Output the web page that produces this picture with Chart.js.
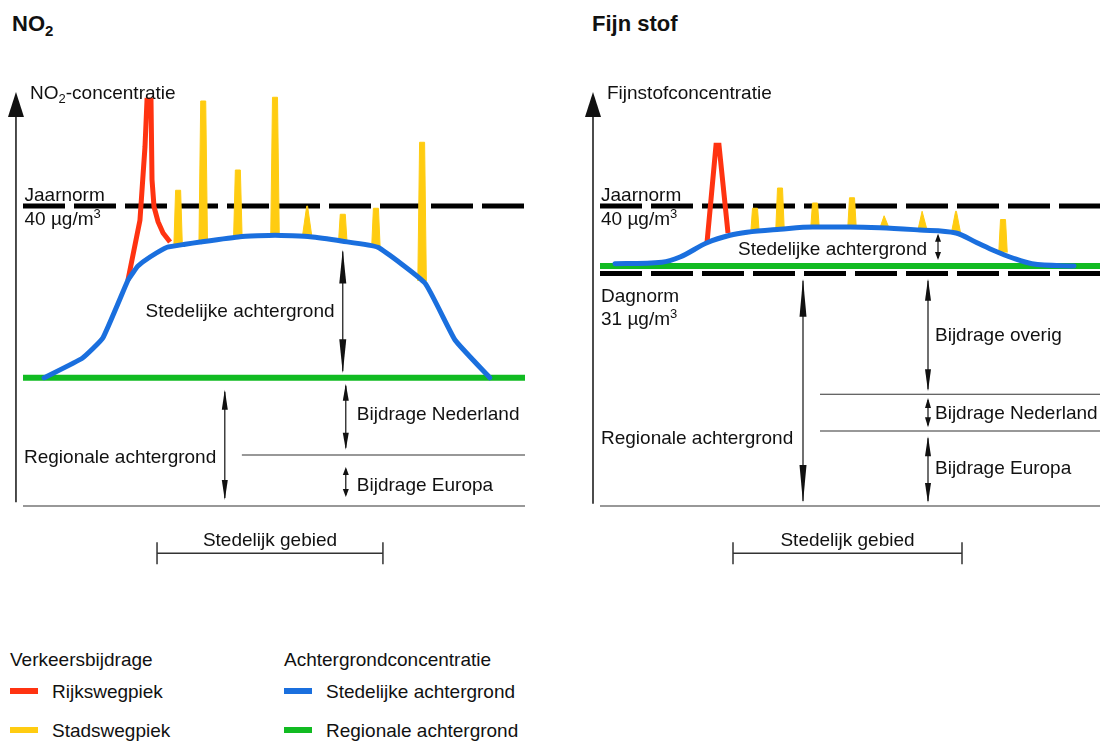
<!DOCTYPE html>
<html><head><meta charset="utf-8"><title>NO2 en fijn stof</title>
<script src="https://cdn.jsdelivr.net/npm/chart.js@4.4.1/dist/chart.umd.min.js"></script>
<style>
html,body{margin:0;padding:0;background:#fff;}
body{width:1104px;height:745px;position:relative;overflow:hidden;font-family:"Liberation Sans",Arial,Helvetica,sans-serif;color:#111;}
canvas.panel{position:absolute;top:0;}
.title{position:absolute;font-weight:bold;font-size:22px;line-height:22px;white-space:nowrap;}
.title span{font-size:15px;position:relative;top:5px;}
.lg{position:absolute;font-size:19px;line-height:1;white-space:nowrap;transform:translateY(-50%);}
.sw{position:absolute;width:28px;height:6px;transform:translateY(-50%);}
</style></head><body>
<div class="title" style="left:12px;top:13px">NO<span>2</span></div>
<div class="title" style="left:592px;top:13px">Fijn stof</div>
<canvas id="no2" class="panel" width="552" height="600" style="left:0"></canvas>
<canvas id="pm" class="panel" width="552" height="600" style="left:552px"></canvas>
<div id="legend"></div>
<script>
// ---------- colours ----------
const RED = '#ff3311', YELLOW = '#ffcc11', BLUE = '#1a6fde', GREEN = '#11bb22';

// ---------- NO2 panel data (x: afstand, y: concentratie µg/m3) ----------
const no2BlueX = [4.2, 11.8, 15.9, 20.9, 21.9, 22.9, 25.3, 28.7, 32.3, 35.3, 43.2, 50.2, 57.2, 63.7, 70.7, 80.1, 86.1, 93.0];
const no2BlueY = [17.1, 19.7, 22.4, 30.1, 31.1, 32.0, 33.2, 34.5, 34.9, 35.2, 35.9, 36.1, 35.9, 35.3, 34.5, 29.7, 22.1, 17.1];
const no2RedX = [20.9, 23.3, 24.3, 24.7, 25.5, 25.7, 26.1, 26.9, 27.9, 29.3];
const no2RedY = [30.1, 38.1, 47.9, 54.1, 54.1, 43.5, 39.9, 37.9, 36.4, 35.2];
const no2PeakX = [30.9, 35.9, 42.8, 50.2, 56.6, 63.7, 70.3, 79.5];
const no2PeakTop = [42.1, 54.0, 44.8, 54.5, 40.0, 38.9, 39.7, 48.5];
const no2PeakBase = [34.6, 35.2, 35.8, 36.0, 35.9, 35.2, 34.4, 30.0];
const no2PeakShape = ['bar', 'bar', 'bar', 'bar', 'spike', 'bar', 'bar', 'bar'];
const no2Regional = 17.1;
const no2Norms = [40];

// ---------- Fijn stof panel data ----------
const pmBlueX = [3, 12.4, 16, 21.4, 26, 29.4, 36, 42.6, 50, 56, 64, 71.2, 75.4, 79, 82.4, 86.4, 94.8];
const pmBlueY = [32.3, 32.5, 33.2, 35.1, 36.1, 36.5, 36.9, 37.2, 37.2, 37.1, 36.8, 36.4, 35.1, 34.0, 33.1, 32.3, 32.0];
const pmRedX = [21.4, 23.2, 23.8, 25.6];
const pmRedY = [35.1, 48.1, 48.1, 36.4];
const pmPeakX = [31, 36, 43, 50.4, 56.9, 64.5, 71.2, 80.6];
const pmPeakTop = [39.7, 42.4, 40.4, 41.1, 38.7, 39.3, 39.3, 38.2];
const pmPeakBase = [36.4, 36.8, 37.1, 37.1, 37.0, 36.7, 36.3, 33.8];
const pmPeakShape = ['bar', 'bar', 'bar', 'bar', 'spike', 'spike', 'spike', 'bar'];
const pmRegional = 32.0;
const pmNorms = [40, 31];

// peak shapes (half widths in x units)
const PEAK_SHAPE = { bar: { base: 0.85, top: 0.5 }, spike: { base: 0.95, top: 0.08 } };

// ---------- annotations (in data units) ----------
const no2Spec = {
  axis: { x: -1.4, top: 55.2, bottom: 0.5 },
  hlines: [{ y: 6.8, x1: 43.6, x2: 100 }, { y: 0, x1: 0, x2: 100 }],
  arrows: [
    { x: 63.7, y1: 34.2, y2: 17.7, head: 34, w: 7 },
    { x: 64.3, y1: 16.3, y2: 7.5, head: 17, w: 6 },
    { x: 64.3, y1: 5.2, y2: 1.2, head: 8, w: 6 },
    { x: 40.2, y1: 15.5, y2: 0.8, head: 20, w: 6 }
  ],
  texts: [
    { x: 1.4, y: 55.1, parts: [['NO'], ['2', 'sub'], ['-concentratie']] },
    { x: 0.3, y: 41.5, parts: [['Jaarnorm']] },
    { x: 0.3, y: 38.3, parts: [['40 µg/m'], ['3', 'sup']] },
    { x: 24.4, y: 26.1, parts: [['Stedelijke achtergrond']] },
    { x: 66.5, y: 12.4, parts: [['Bijdrage Nederland']] },
    { x: 66.5, y: 2.9, parts: [['Bijdrage Europa']] },
    { x: 0.2, y: 6.6, parts: [['Regionale achtergrond']] }
  ],
  bracket: { x1: 26.7, x2: 71.7, y: -6.3, label: 'Stedelijk gebied', labelY: -4.4 }
};
const pmSpec = {
  axis: { x: -1.4, top: 55.2, bottom: 0.3 },
  hlines: [{ y: 14.9, x1: 44, x2: 100 }, { y: 10.0, x1: 44, x2: 100 }, { y: 0, x1: 0, x2: 100 }],
  arrows: [
    { x: 67.6, y1: 36.3, y2: 32.8, head: 8, w: 6 },
    { x: 40.6, y1: 30.3, y2: 0.4, head: 38, w: 7 },
    { x: 65.6, y1: 30.3, y2: 15.3, head: 22, w: 6 },
    { x: 65.6, y1: 14.4, y2: 10.5, head: 10, w: 6 },
    { x: 65.6, y1: 9.3, y2: 0.4, head: 20, w: 6 }
  ],
  texts: [
    { x: 1.4, y: 55.1, parts: [['Fijnstofconcentratie']] },
    { x: 0.2, y: 41.5, parts: [['Jaarnorm']] },
    { x: 0.2, y: 38.3, parts: [['40 µg/m'], ['3', 'sup']] },
    { x: 27.6, y: 34.3, parts: [['Stedelijke achtergrond']] },
    { x: 0.2, y: 28.1, parts: [['Dagnorm']] },
    { x: 0.2, y: 25.0, parts: [['31 µg/m'], ['3', 'sup']] },
    { x: 67, y: 22.9, parts: [['Bijdrage overig']] },
    { x: 67, y: 12.5, parts: [['Bijdrage Nederland']] },
    { x: 67, y: 5.2, parts: [['Bijdrage Europa']] },
    { x: 0.2, y: 9.1, parts: [['Regionale achtergrond']] }
  ],
  bracket: { x1: 26.6, x2: 72.4, y: -6.3, label: 'Stedelijk gebied', labelY: -4.4 }
};

const FONT = '"Liberation Sans", Arial, Helvetica, sans-serif';
function fontFor(p, size) {
  return (p[1] ? 13 : size) + 'px ' + FONT;
}
function drawRich(ctx, parts, px, py, size, align) {
  const base = py + size * 0.35;
  const widths = parts.map(p => { ctx.font = fontFor(p, size); return ctx.measureText(p[0]).width; });
  const total = widths.reduce((a, b) => a + b, 0);
  let x = align === 'center' ? px - total / 2 : px;
  ctx.textAlign = 'left';
  ctx.textBaseline = 'alphabetic';
  parts.forEach((p, i) => {
    ctx.font = fontFor(p, size);
    const dy = p[1] === 'sub' ? 4 : (p[1] === 'sup' ? -7 : 0);
    ctx.fillText(p[0], x, base + dy);
    x += widths[i];
  });
}
function head(ctx, x, tipY, dir, len, w) {
  ctx.beginPath();
  ctx.moveTo(x, tipY);
  ctx.lineTo(x - w / 2, tipY + dir * len);
  ctx.lineTo(x + w / 2, tipY + dir * len);
  ctx.closePath();
  ctx.fill();
}

const annotate = {
  id: 'annotate',
  afterDatasetsDraw(chart, args, opts) {
    const spec = opts.spec;
    if (!spec) return;
    const { ctx } = chart;
    const X = v => chart.scales.x.getPixelForValue(v);
    const Y = v => chart.scales.y.getPixelForValue(v);
    ctx.save();
    ctx.strokeStyle = '#111';
    ctx.fillStyle = '#111';
    // y-axis arrow
    const ax = X(spec.axis.x);
    ctx.lineWidth = 1.5;
    ctx.beginPath();
    ctx.moveTo(ax, Y(spec.axis.bottom));
    ctx.lineTo(ax, Y(spec.axis.top) + 20);
    ctx.stroke();
    head(ctx, ax, Y(spec.axis.top), 1, 25, 16);
    // thin horizontal lines
    ctx.strokeStyle = '#333';
    ctx.lineWidth = 1.2;
    spec.hlines.forEach(h => {
      ctx.beginPath();
      ctx.moveTo(X(h.x1), Y(h.y));
      ctx.lineTo(X(h.x2), Y(h.y));
      ctx.stroke();
    });
    // double arrows
    ctx.strokeStyle = '#111';
    spec.arrows.forEach(a => {
      const x = X(a.x), yt = Y(a.y1), yb = Y(a.y2);
      ctx.lineWidth = 1.2;
      ctx.beginPath();
      ctx.moveTo(x, yt + 2);
      ctx.lineTo(x, yb - 2);
      ctx.stroke();
      head(ctx, x, yt, 1, a.head, a.w);
      head(ctx, x, yb, -1, a.head, a.w);
    });
    // texts
    ctx.fillStyle = '#111';
    spec.texts.forEach(t => drawRich(ctx, t.parts, X(t.x), Y(t.y), 19, 'left'));
    // bracket
    const b = spec.bracket;
    const bx1 = X(b.x1), bx2 = X(b.x2), by = Y(b.y);
    ctx.strokeStyle = '#333';
    ctx.lineWidth = 1.5;
    ctx.beginPath();
    ctx.moveTo(bx1, by); ctx.lineTo(bx2, by);
    ctx.moveTo(bx1, by - 11); ctx.lineTo(bx1, by + 11);
    ctx.moveTo(bx2, by - 11); ctx.lineTo(bx2, by + 11);
    ctx.stroke();
    drawRich(ctx, [[b.label]], (bx1 + bx2) / 2, Y(b.labelY), 19, 'center');
    ctx.restore();
  }
};

function pts(xs, ys) { return xs.map((x, i) => ({ x, y: ys[i] })); }

function buildChart(id, d, spec, padding, blueSmooth) {
  const datasets = [];
  const blueDs = { label: 'Stedelijke achtergrond', data: pts(d.blueX, d.blueY), borderColor: BLUE, borderWidth: 5,
    pointRadius: 0, fill: false, borderJoinStyle: 'round', borderCapStyle: 'round' };
  if (blueSmooth) blueDs.cubicInterpolationMode = 'monotone'; else blueDs.tension = 0.12;
  datasets.push(blueDs);
  datasets.push({ label: 'Rijkswegpiek', data: pts(d.redX, d.redY), borderColor: RED, borderWidth: 5,
    tension: 0, pointRadius: 0, fill: false, borderJoinStyle: 'miter' });
  datasets.push({ label: 'Regionale achtergrond', data: [{ x: 0, y: d.regional }, { x: 100, y: d.regional }],
    borderColor: GREEN, borderWidth: 6, pointRadius: 0, fill: false, borderCapStyle: 'butt' });
  d.peakX.forEach((px, i) => {
    const s = PEAK_SHAPE[d.peakShape[i]];
    datasets.push({ label: 'Stadswegpiek', data: [
        { x: px - s.base, y: d.peakBase[i] }, { x: px - s.top, y: d.peakTop[i] },
        { x: px + s.top, y: d.peakTop[i] }, { x: px + s.base, y: d.peakBase[i] }],
      borderColor: YELLOW, backgroundColor: YELLOW, borderWidth: 1, pointRadius: 0, fill: 'shape', tension: 0 });
  });
  d.norms.forEach(n => datasets.push({ label: 'norm', data: [{ x: 0, y: n }, { x: 100, y: n }],
    borderColor: '#000', borderWidth: 5, borderDash: [42, 9], borderCapStyle: 'butt', pointRadius: 0, fill: false }));
  datasets.forEach(ds => { ds.clip = false; });
  return new Chart(document.getElementById(id), {
    type: 'line',
    data: { datasets },
    options: {
      responsive: false, animation: false, devicePixelRatio: 1, events: [],
      layout: { padding },
      scales: {
        x: { type: 'linear', min: 0, max: 100, display: false },
        y: { type: 'linear', min: 0, max: 60, display: false }
      },
      plugins: { legend: { display: false }, tooltip: { enabled: false }, annotate: { spec } }
    },
    plugins: [annotate]
  });
}

buildChart('no2', { blueX: no2BlueX, blueY: no2BlueY, redX: no2RedX, redY: no2RedY, peakX: no2PeakX,
  peakTop: no2PeakTop, peakBase: no2PeakBase, peakShape: no2PeakShape, regional: no2Regional, norms: no2Norms },
  no2Spec, { left: 23, right: 27, top: 56, bottom: 94 }, false);
buildChart('pm', { blueX: pmBlueX, blueY: pmBlueY, redX: pmRedX, redY: pmRedY, peakX: pmPeakX,
  peakTop: pmPeakTop, peakBase: pmPeakBase, peakShape: pmPeakShape, regional: pmRegional, norms: pmNorms },
  pmSpec, { left: 48, right: 4, top: 56, bottom: 94 }, true);

// ---------- legend ----------
const legendHeaders = ['Verkeersbijdrage', 'Achtergrondconcentratie'];
const legendLabels = [['Rijkswegpiek', 'Stadswegpiek'], ['Stedelijke achtergrond', 'Regionale achtergrond']];
const legendColors = [[RED, YELLOW], [BLUE, GREEN]];
const lg = document.getElementById('legend');
const colLeft = [10, 284], rowY = [691, 730];
legendHeaders.forEach((h, c) => {
  let html = `<div class="lg" style="left:${colLeft[c]}px;top:659px">${h}</div>`;
  legendLabels[c].forEach((l, r) => {
    html += `<div class="sw" style="left:${colLeft[c]}px;top:${rowY[r]}px;background:${legendColors[c][r]}"></div>`;
    html += `<div class="lg" style="left:${colLeft[c] + 42}px;top:${rowY[r]}px">${l}</div>`;
  });
  lg.insertAdjacentHTML('beforeend', html);
});
</script>
</body></html>
